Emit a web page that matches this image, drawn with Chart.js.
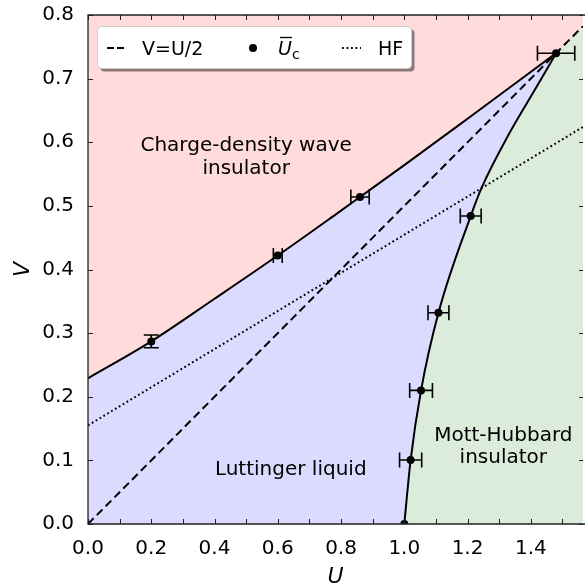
<!DOCTYPE html>
<html>
<head>
<meta charset="utf-8">
<script src="https://cdn.jsdelivr.net/npm/chart.js@4/dist/chart.umd.min.js"></script>
<style>
  html, body { margin: 0; padding: 0; background: #fff; }
</style>
</head>
<body>
<canvas id="fase" width="587" height="583"></canvas>
<script>
// frontera onda de densidad de carga
const cdwU = [0, 0.2, 0.4, 0.6, 0.79, 0.86, 1.0, 1.2, 1.48];
const cdwV = [0.229, 0.287, 0.354, 0.422, 0.489, 0.514, 0.564, 0.637, 0.74];

// frontera Mott-Hubbard
const mottU = [1.0, 1.02, 1.053, 1.108, 1.21, 1.245, 1.332, 1.417, 1.48];
const mottV = [0, 0.1005, 0.21, 0.332, 0.484, 0.529, 0.614, 0.686, 0.74];

// puntos U_c con errores
const ucU = [0.2, 0.6, 0.86, 1.48, 1.21, 1.108, 1.053, 1.02, 1.0];
const ucV = [0.287, 0.422, 0.514, 0.74, 0.484, 0.332, 0.21, 0.1005, 0];
const ucErrU = [0, 0.014, 0.029, 0.059, 0.033, 0.033, 0.036, 0.035, 0];
const ucErrV = [0.01, 0, 0, 0, 0, 0, 0, 0, 0];

// rectas
const mitadU = [0, 1.565];
const mitadV = [0, 0.7825];
const hfU = [0, 1.565];
const hfV = [0.155, 0.624];
// cuña verde a la derecha del punto tricritico
const cunaU = [1.48, 1.565];
const cunaV = [0.74, 0.7825];

const xTicks = [0, 0.2, 0.4, 0.6, 0.8, 1.0, 1.2, 1.4];
const yTicks = [0, 0.1, 0.2, 0.3, 0.4, 0.5, 0.6, 0.7, 0.8];

const rosa = 'rgb(255, 219, 219)';
const lila = 'rgb(219, 219, 255)';
const verde = 'rgb(219, 236, 219)';
const fuente = "'DejaVu Sans', sans-serif";

const pares = (us, vs) => us.map((u, i) => ({ x: u, y: vs[i] }));

const textos = [
  { t: ['Charge-density wave', 'insulator'], u: 0.5, v: 0.577, h: 23 },
  { t: ['Luttinger liquid'], u: 0.641, v: 0.085, h: 23 },
  { t: ['Mott-Hubbard', 'insulator'], u: 1.313, v: 0.1215, h: 22 }
];

const fondo = {
  id: 'fondo',
  beforeDatasetsDraw(chart) {
    const { ctx, chartArea: a } = chart;
    ctx.save();
    ctx.fillStyle = rosa;
    ctx.fillRect(a.left, a.top, a.right - a.left, a.bottom - a.top);
    ctx.restore();
  }
};

const adornos = {
  id: 'adornos',
  afterDatasetsDraw(chart) {
    const { ctx, chartArea: a, scales: { x, y } } = chart;
    ctx.save();

    // barras de error
    ctx.strokeStyle = '#000';
    ctx.lineWidth = 1.6;
    const cap = 7.5;
    for (let i = 0; i < ucU.length; i++) {
      const px = x.getPixelForValue(ucU[i]);
      const py = y.getPixelForValue(ucV[i]);
      ctx.beginPath();
      if (ucErrU[i] > 0) {
        const x0 = x.getPixelForValue(ucU[i] - ucErrU[i]);
        const x1 = x.getPixelForValue(ucU[i] + ucErrU[i]);
        ctx.moveTo(x0, py); ctx.lineTo(x1, py);
        ctx.moveTo(x0, py - cap); ctx.lineTo(x0, py + cap);
        ctx.moveTo(x1, py - cap); ctx.lineTo(x1, py + cap);
      }
      if (ucErrV[i] > 0) {
        const y0 = y.getPixelForValue(ucV[i] - ucErrV[i]);
        const y1 = y.getPixelForValue(ucV[i] + ucErrV[i]);
        ctx.moveTo(px, y0); ctx.lineTo(px, y1);
        ctx.moveTo(px - cap, y0); ctx.lineTo(px + cap, y0);
        ctx.moveTo(px - cap, y1); ctx.lineTo(px + cap, y1);
      }
      ctx.stroke();
    }

    // textos de las fases
    ctx.fillStyle = '#000';
    ctx.font = '20px ' + fuente;
    ctx.textAlign = 'center';
    ctx.textBaseline = 'middle';
    textos.forEach(o => {
      const cx = x.getPixelForValue(o.u);
      const cy = y.getPixelForValue(o.v);
      const y0 = cy - (o.t.length - 1) * o.h / 2;
      o.t.forEach((s, k) => ctx.fillText(s, cx, y0 + k * o.h));
    });

    // ticks hacia dentro en los cuatro lados
    ctx.strokeStyle = '#222';
    ctx.lineWidth = 1;
    ctx.beginPath();
    for (let k = 0; k <= 15; k++) {
      const px = Math.round(x.getPixelForValue(k / 10)) + 0.5;
      ctx.moveTo(px, a.bottom); ctx.lineTo(px, a.bottom - 5);
      ctx.moveTo(px, a.top); ctx.lineTo(px, a.top + 5);
    }
    yTicks.forEach(v => {
      const py = Math.round(y.getPixelForValue(v)) + 0.5;
      ctx.moveTo(a.left, py); ctx.lineTo(a.left + 5, py);
      ctx.moveTo(a.right, py); ctx.lineTo(a.right - 4, py);
    });
    ctx.stroke();

    // ejes
    ctx.strokeStyle = '#222';
    ctx.lineWidth = 1.3;
    ctx.beginPath();
    ctx.moveTo(a.right + 2, a.top); ctx.lineTo(a.left, a.top);
    ctx.lineTo(a.left, a.bottom); ctx.lineTo(a.right + 2, a.bottom);
    ctx.stroke();
    ctx.restore();
  },
  afterDraw(chart) {
    const { ctx } = chart;
    ctx.save();
    // leyenda
    ctx.fillStyle = 'rgba(0,0,0,0.45)';
    ctx.beginPath();
    ctx.roundRect(100.5, 29.5, 314, 42, 4);
    ctx.fill();
    ctx.fillStyle = '#fff';
    ctx.strokeStyle = '#cccccc';
    ctx.lineWidth = 1;
    ctx.beginPath();
    ctx.roundRect(97.5, 26.5, 314, 42, 4);
    ctx.fill();
    ctx.stroke();

    const cy = 48;
    ctx.strokeStyle = '#000';
    ctx.lineWidth = 2;
    ctx.setLineDash([7, 3]);
    ctx.beginPath(); ctx.moveTo(107, cy); ctx.lineTo(124, cy); ctx.stroke();
    ctx.setLineDash([1.8, 2.7]);
    ctx.beginPath(); ctx.moveTo(342, cy); ctx.lineTo(361, cy); ctx.stroke();
    ctx.setLineDash([]);
    ctx.fillStyle = '#000';
    ctx.beginPath(); ctx.arc(253, cy, 4, 0, Math.PI * 2); ctx.fill();

    ctx.textAlign = 'left';
    ctx.textBaseline = 'alphabetic';
    ctx.font = '19px ' + fuente;
    ctx.fillText('V=U/2', 142, 55);
    ctx.fillText('HF', 378, 55);
    ctx.font = 'italic 19px ' + fuente;
    ctx.fillText('U', 278, 55);
    ctx.lineWidth = 1.3;
    ctx.beginPath(); ctx.moveTo(280, 37.5); ctx.lineTo(292, 37.5); ctx.stroke();
    ctx.font = '14px ' + fuente;
    ctx.fillText('c', 292, 59);
    ctx.restore();
  }
};

new Chart(document.getElementById('fase'), {
  type: 'line',
  data: {
    datasets: [
      {
        label: 'Uc',
        data: pares(ucU, ucV),
        showLine: false,
        pointRadius: 4,
        pointBackgroundColor: '#000',
        pointBorderWidth: 0,
        clip: 0,
        order: 0
      },
      {
        label: 'V=U/2',
        data: pares(mitadU, mitadV),
        borderColor: '#000',
        borderWidth: 2,
        borderDash: [8, 4.5],
        pointRadius: 0,
        fill: false,
        order: 1
      },
      {
        label: 'HF',
        data: pares(hfU, hfV),
        borderColor: '#000',
        borderWidth: 2,
        borderDash: [1.8, 2.7],
        pointRadius: 0,
        fill: false,
        order: 1
      },
      {
        label: 'Mott',
        data: pares(mottU, mottV),
        borderColor: '#000',
        borderWidth: 2,
        cubicInterpolationMode: 'monotone',
        pointRadius: 0,
        fill: 'start',
        backgroundColor: verde,
        order: 4
      },
      {
        label: 'cuna',
        data: pares(cunaU, cunaV),
        borderWidth: 0,
        borderColor: 'rgba(0,0,0,0)',
        pointRadius: 0,
        fill: 'start',
        backgroundColor: verde,
        order: 4
      },
      {
        label: 'CDW',
        data: pares(cdwU, cdwV),
        borderColor: '#000',
        borderWidth: 2,
        cubicInterpolationMode: 'monotone',
        pointRadius: 0,
        fill: 'start',
        backgroundColor: lila,
        order: 5
      }
    ]
  },
  options: {
    responsive: false,
    animation: false,
    devicePixelRatio: 1,
    layout: { padding: { top: 15, right: 0, left: 0, bottom: 0 } },
    plugins: {
      legend: { display: false },
      tooltip: { enabled: false },
      filler: { drawTime: 'beforeDatasetDraw' }
    },
    scales: {
      x: {
        type: 'linear',
        min: 0,
        max: 1.565,
        afterFit: s => { s.height = 59; s.paddingLeft = 0; s.paddingRight = 0; },
        afterBuildTicks: s => { s.ticks = xTicks.map(v => ({ value: v })); },
        grid: { display: false, drawTicks: false },
        border: { display: false },
        ticks: {
          autoSkip: false,
          maxRotation: 0,
          padding: 13,
          color: '#000',
          font: { family: fuente, size: 20 },
          callback: v => v.toFixed(1)
        },
        title: {
          display: true,
          text: 'U',
          color: '#000',
          padding: 0,
          font: { family: fuente, size: 22, style: 'italic', lineHeight: 0.5 }
        }
      },
      y: {
        min: 0,
        max: 0.8,
        afterFit: s => { s.width = 88; s.paddingTop = 0; s.paddingBottom = 0; },
        afterBuildTicks: s => { s.ticks = yTicks.map(v => ({ value: v })); },
        grid: { display: false, drawTicks: false },
        border: { display: false },
        ticks: {
          padding: 14,
          color: '#000',
          font: { family: fuente, size: 20 },
          callback: v => v.toFixed(1)
        },
        title: {
          display: true,
          text: 'V',
          color: '#000',
          padding: 0,
          font: { family: fuente, size: 22, style: 'italic', lineHeight: 2.1 }
        }
      }
    }
  },
  plugins: [fondo, adornos]
});
</script>
</body>
</html>
